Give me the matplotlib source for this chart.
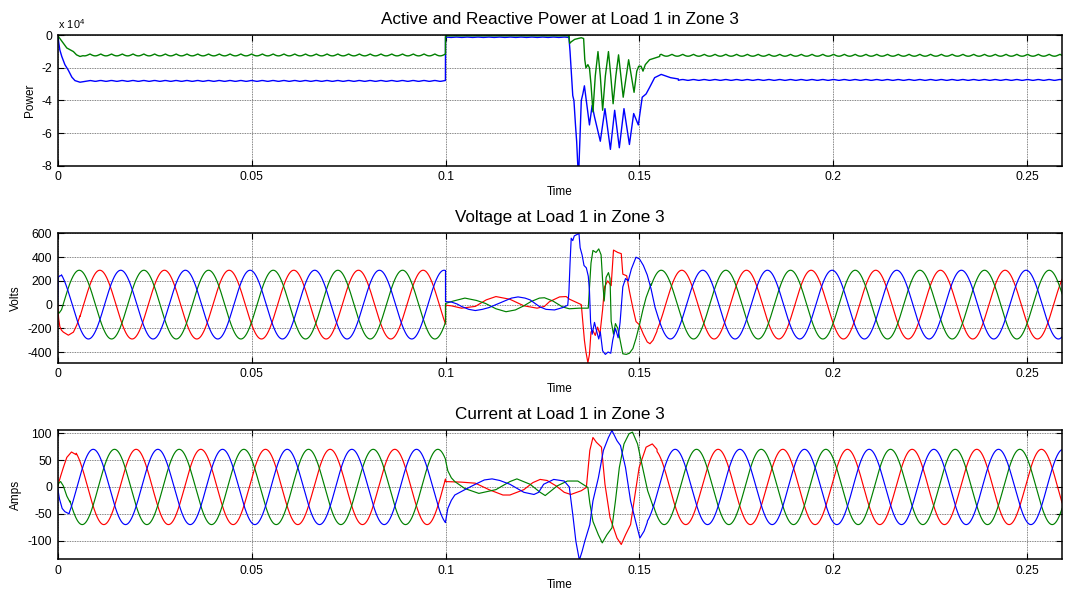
import numpy as np
import matplotlib
matplotlib.use('Agg')
import matplotlib.pyplot as plt

plt.rcParams['font.family'] = ['Liberation Sans', 'DejaVu Sans']
plt.rcParams['mathtext.fontset'] = 'custom'
plt.rcParams['mathtext.rm'] = 'Liberation Sans'

# ---------------- time axis / events ----------------
T_END = 0.2589
DT = 2e-5
F_HZ = 60.0
T_OPEN = 0.1          # first disturbance
X_TICKS = [0, 0.05, 0.1, 0.15, 0.2, 0.25]
X_TICK_LABELS = ['0', '0.05', '0.1', '0.15', '0.2', '0.25']

# ---------------- power (W / var) ----------------
P_TICKS = [-8e4, -6e4, -4e4, -2e4, 0]
P_TICK_LABELS = ['-8', '-6', '-4', '-2', '0']
P_RIPPLE_HZ = 360.0
# levels: before 0.1, between 0.1 and transient, after transient
P_BLUE_LEVELS = [-2.80e4, -0.12e4, -2.74e4]
P_BLUE_RIPPLE = [250, 120, 250]
P_GREEN_LEVELS = [-1.22e4, -0.03e4, -1.24e4]
P_GREEN_RIPPLE = [600, 50, 600]
P_BLUE_START = [(0, 0), (0.0002, -0.25e4), (0.0006, -0.9e4), (0.0011, -1.3e4), (0.0019, -1.8e4),
                (0.0028, -2.15e4), (0.0037, -2.57e4), (0.0045, -2.78e4), (0.0058, -2.88e4),
                (0.0070, -2.83e4)]
P_GREEN_START = [(0, 0), (0.0011, -0.36e4), (0.0024, -0.78e4), (0.0032, -0.88e4), (0.0041, -1.0e4),
                 (0.0049, -1.2e4), (0.0058, -1.3e4), (0.0065, -1.25e4)]
P_BLUE_FAULT = [(0.1318, -0.1e4), (0.1321, -1.0e4), (0.1325, -2.5e4), (0.1328, -3.7e4), (0.1331, -4.0e4),
                (0.1335, -5.5e4), (0.1338, -6.5e4), (0.1341, -8.0e4), (0.1344, -8.0e4), (0.1347, -6.0e4),
                (0.1350, -4.0e4), (0.1354, -3.6e4), (0.1358, -3.1e4), (0.1364, -4.2e4), (0.1371, -5.5e4),
                (0.1378, -4.3e4), (0.1384, -5.0e4), (0.1399, -6.5e4), (0.1411, -4.5e4), (0.1425, -7.0e4),
                (0.1436, -4.6e4), (0.1448, -6.9e4), (0.1460, -4.5e4), (0.1474, -6.7e4), (0.1485, -4.8e4),
                (0.1497, -5.5e4), (0.1507, -3.8e4), (0.1517, -3.6e4), (0.1526, -3.2e4), (0.1539, -2.6e4),
                (0.1556, -2.4e4), (0.1580, -2.6e4), (0.1600, -2.68e4)]
P_GREEN_FAULT = [(0.1318, 0), (0.1320, -0.5e4), (0.1324, -0.4e4), (0.1333, -0.25e4), (0.1350, -0.15e4),
                 (0.1356, -0.2e4), (0.1359, -1.5e4), (0.1362, -2.0e4), (0.1367, -1.8e4), (0.1371, -2.0e4),
                 (0.1375, -3.0e4), (0.1380, -4.7e4), (0.1386, -2.5e4), (0.1393, -1.0e4), (0.1399, -2.5e4),
                 (0.1405, -4.6e4), (0.1412, -2.5e4), (0.1420, -1.0e4), (0.1426, -2.5e4), (0.1432, -4.2e4),
                 (0.1439, -2.5e4), (0.1446, -1.2e4), (0.1452, -2.5e4), (0.1458, -3.8e4), (0.1466, -2.5e4),
                 (0.1472, -1.5e4), (0.1479, -2.5e4), (0.1486, -3.5e4), (0.1493, -2.2e4), (0.1498, -1.9e4),
                 (0.1504, -1.9e4), (0.1509, -2.2e4), (0.1515, -1.8e4), (0.1526, -1.5e4), (0.1539, -1.4e4),
                 (0.1552, -1.3e4)]

# ---------------- voltage (V) ----------------
V_TICKS = [-400, -200, 0, 200, 400, 600]
V_AMP = 290
V_PEAK_RED, V_PEAK_GREEN, V_PEAK_BLUE = 0.0109, 0.0056, 0.0163
V_RED_START = [(0, 0), (0.0003, -120), (0.0006, -185), (0.0010, -215), (0.0015, -232), (0.0028, -258),
               (0.0041, -232), (0.0050, -170), (0.0058, -95)]
V_GREEN_START = [(0, -60), (0.0004, -72), (0.0010, -45)]
V_BLUE_START = [(0, 0), (0.0002, 230), (0.0006, 243), (0.0010, 245)]
V_RED_FAULT = [(0.1000, -5), (0.1015, -10), (0.1041, -30), (0.1077, -15), (0.1105, 40), (0.1130, 68),
               (0.1166, 45), (0.1202, -10), (0.1236, -30), (0.1255, -15), (0.1268, 25), (0.1294, 65),
               (0.1311, 68), (0.1320, 45), (0.1337, 20), (0.1350, 0), (0.1354, -150), (0.1358, -300),
               (0.1362, -400), (0.1367, -490), (0.1371, -420), (0.1375, -230), (0.1380, -220),
               (0.1386, -260), (0.1392, -190), (0.1398, -250), (0.1405, -40), (0.1410, 150), (0.1418, 200),
               (0.1427, 160), (0.1433, 460), (0.1444, 440), (0.1453, 430), (0.1457, 257), (0.1467, 243),
               (0.1474, 114), (0.1483, -30), (0.1491, -143), (0.1500, -171), (0.1510, -250), (0.1520, -315),
               (0.1527, -330), (0.1535, -300), (0.1545, -225)]
V_GREEN_FAULT = [(0.1000, 10), (0.1020, 30), (0.1050, 55), (0.1080, 35), (0.1103, 10), (0.1130, -35),
                 (0.1156, -60), (0.1180, -45), (0.1202, -10), (0.1220, 25), (0.1242, 55), (0.1255, 58),
                 (0.1277, 30), (0.1302, -20), (0.1319, -35), (0.1345, -30), (0.1368, -30), (0.1371, 140),
                 (0.1375, 350), (0.1380, 457), (0.1388, 440), (0.1395, 470), (0.1401, 420), (0.1405, 200),
                 (0.1409, 30), (0.1414, 230), (0.1420, 270), (0.1424, 220), (0.1427, -140), (0.1433, -250),
                 (0.1438, -160), (0.1444, -200), (0.1450, -300), (0.1457, -415), (0.1466, -420),
                 (0.1474, -410), (0.1483, -370), (0.1491, -285), (0.1500, -170), (0.1509, -40),
                 (0.1517, 60), (0.1530, 175)]
V_BLUE_FAULT = [(0.1000, 25), (0.1015, 22), (0.1030, 5), (0.1041, -15), (0.1060, -40), (0.1077, -50),
                (0.1095, -40), (0.1112, -25), (0.1130, 0), (0.1148, 25), (0.1170, 55), (0.1187, 65),
                (0.1205, 55), (0.1218, 40), (0.1235, 0), (0.1244, -20), (0.1259, -40), (0.1281, -45),
                (0.1302, -25), (0.1315, -5), (0.1318, 100), (0.1321, 350), (0.1324, 560), (0.1328, 540),
                (0.1332, 580), (0.1338, 590), (0.1344, 600), (0.1347, 480), (0.1352, 420), (0.1357, 330),
                (0.1363, 310), (0.1368, 240), (0.1371, 120), (0.1374, -150), (0.1378, -250), (0.1384, -150),
                (0.1390, -230), (0.1395, -290), (0.1399, -230), (0.1405, -390), (0.1412, -420),
                (0.1419, -400), (0.1426, -410), (0.1431, -300), (0.1438, -200), (0.1445, -280),
                (0.1450, -150), (0.1457, 150), (0.1464, 220), (0.1471, 200), (0.1479, 300), (0.1491, 400),
                (0.1500, 385), (0.1510, 330), (0.1520, 250), (0.1530, 130), (0.1538, 5)]

# ---------------- current (A) ----------------
I_TICKS = [-100, -50, 0, 50, 100]
I_AMP = 70
I_PEAK_RED, I_PEAK_GREEN, I_PEAK_BLUE = 0.0036, 0.0147, 0.0092
I_RED_START = [(0, 0), (0.0008, 20), (0.0015, 36), (0.0024, 55), (0.0036, 65), (0.0048, 60)]
I_GREEN_START = [(0, 0), (0.0004, 8), (0.0008, 10), (0.0015, 2), (0.0024, -17), (0.0032, -28)]
I_BLUE_START = [(0, 0), (0.0005, -22), (0.0012, -40), (0.0019, -46), (0.0030, -50)]
I_RED_FAULT = [(0.1000, 10), (0.1040, 9), (0.1077, 7), (0.1112, -5), (0.1148, -15), (0.1166, -15),
               (0.1202, -5), (0.1225, 8), (0.1244, 14), (0.1262, 12), (0.1285, 2), (0.1306, -10),
               (0.1323, -14), (0.1350, -7), (0.1363, -1), (0.1367, 30), (0.1372, 68), (0.1380, 92),
               (0.1389, 83), (0.1402, 74), (0.1411, 5), (0.1424, -57), (0.1442, -95), (0.1453, -107),
               (0.1464, -89), (0.1477, -70), (0.1486, -26), (0.1499, 36), (0.1517, 74), (0.1533, 80),
               (0.1545, 70)]
I_GREEN_FAULT = [(0.1000, 50), (0.1006, 30), (0.1015, 17), (0.1024, 10), (0.1050, -3), (0.1086, -12),
                 (0.1130, -5), (0.1166, 10), (0.1184, 15), (0.1218, 5), (0.1244, -10), (0.1257, -16),
                 (0.1288, 2), (0.1314, 11), (0.1341, 11), (0.1354, 5), (0.1367, -1), (0.1372, -30),
                 (0.1380, -64), (0.1394, -89), (0.1404, -104), (0.1416, -89), (0.1429, -76), (0.1438, -26),
                 (0.1448, 36), (0.1460, 80), (0.1473, 99), (0.1482, 102), (0.1495, 80), (0.1508, 36),
                 (0.1521, -7), (0.1535, -36)]
I_BLUE_FAULT = [(0.1000, -65), (0.1006, -40), (0.1015, -25), (0.1024, -15), (0.1050, -5), (0.1077, 5),
                (0.1100, 13), (0.1120, 15), (0.1140, 12), (0.1166, 5), (0.1202, -10), (0.1228, -14),
                (0.1240, -10), (0.1253, 5), (0.1279, 14), (0.1306, 11), (0.1319, 0), (0.1328, -51),
                (0.1336, -101), (0.1345, -136), (0.1352, -120), (0.1359, -101), (0.1372, -70),
                (0.1380, -26), (0.1394, 17), (0.1407, 68), (0.1420, 92), (0.1429, 105), (0.1442, 86),
                (0.1451, 77), (0.1464, 36), (0.1477, -26), (0.1490, -64), (0.1501, -95), (0.1512, -82),
                (0.1520, -66)]

RED, GREEN, BLUE = '#ff0000', '#008000', '#0000ff'


def steady_wave(t, amp, peak):
    return amp * np.cos(2 * np.pi * F_HZ * (t - peak))


def build_phase(start_pts, fault_pts, amp, peak):
    s = np.array(start_pts, float)
    f = np.array(fault_pts, float)
    t1 = np.append(np.arange(s[-1, 0] + DT, T_OPEN, DT), T_OPEN)
    t3 = np.arange(f[-1, 0] + DT, T_END + DT, DT)
    t = np.concatenate([s[:, 0], t1, f[:, 0], t3])
    y = np.concatenate([s[:, 1], steady_wave(t1, amp, peak), f[:, 1], steady_wave(t3, amp, peak)])
    return t, y


def ripple(t, amp, sharp):
    if sharp:
        return amp * (1.27 - 2 * np.abs(np.sin(np.pi * P_RIPPLE_HZ * t)))
    return amp * np.cos(2 * np.pi * P_RIPPLE_HZ * t)


def build_power(start_pts, fault_pts, levels, ripples, sharp):
    s = np.array(start_pts, float)
    f = np.array(fault_pts, float)
    t1 = np.arange(s[-1, 0] + DT, T_OPEN, DT)
    t2 = np.arange(T_OPEN, f[0, 0], DT)
    t3 = np.arange(f[-1, 0] + DT, T_END + DT, DT)
    t = np.concatenate([s[:, 0], t1, t2, f[:, 0], t3])
    y = np.concatenate([s[:, 1],
                        levels[0] + ripple(t1, ripples[0], sharp),
                        levels[1] + ripple(t2, ripples[1], sharp),
                        f[:, 1],
                        levels[2] + ripple(t3, ripples[2], sharp)])
    return t, y


fig = plt.figure(figsize=(10.65, 5.99), dpi=100)
rects = [[0.0540, 0.7234, 0.9432, 0.2177],
         [0.0540, 0.3945, 0.9432, 0.2157],
         [0.0540, 0.0668, 0.9432, 0.2154]]
axes = [fig.add_axes(r) for r in rects]

LW = 0.85
# Power
ax = axes[0]
t, y = build_power(P_BLUE_START, P_BLUE_FAULT, P_BLUE_LEVELS, P_BLUE_RIPPLE, False)
ax.plot(t, y, color=BLUE, lw=1.0)
t, y = build_power(P_GREEN_START, P_GREEN_FAULT, P_GREEN_LEVELS, P_GREEN_RIPPLE, True)
ax.plot(t, y, color=GREEN, lw=1.0)
ax.set_ylim(-8e4, 0)
ax.set_yticks(P_TICKS, P_TICK_LABELS)
ax.set_title('Active and Reactive Power at Load 1 in Zone 3', fontsize=12.3, pad=8)
ax.set_ylabel('Power', fontsize=8.5)
ax.text(0, 1.03, r'$\mathregular{x\ 10^{4}}$', transform=ax.transAxes, fontsize=7.8,
        ha='left', va='bottom')

# Voltage
ax = axes[1]
for sp, fp, pk, c in [(V_RED_START, V_RED_FAULT, V_PEAK_RED, RED),
                      (V_GREEN_START, V_GREEN_FAULT, V_PEAK_GREEN, GREEN),
                      (V_BLUE_START, V_BLUE_FAULT, V_PEAK_BLUE, BLUE)]:
    t, y = build_phase(sp, fp, V_AMP, pk)
    ax.plot(t, y, color=c, lw=LW)
ax.set_ylim(-490, 600)
ax.set_yticks(V_TICKS, [str(v) for v in V_TICKS])
ax.set_title('Voltage at Load 1 in Zone 3', fontsize=12.3, pad=8)
ax.set_ylabel('Volts', fontsize=8.5)

# Current
ax = axes[2]
for sp, fp, pk, c in [(I_RED_START, I_RED_FAULT, I_PEAK_RED, RED),
                      (I_GREEN_START, I_GREEN_FAULT, I_PEAK_GREEN, GREEN),
                      (I_BLUE_START, I_BLUE_FAULT, I_PEAK_BLUE, BLUE)]:
    t, y = build_phase(sp, fp, I_AMP, pk)
    ax.plot(t, y, color=c, lw=LW)
ax.set_ylim(-134, 106)
ax.set_yticks(I_TICKS, [str(v) for v in I_TICKS])
ax.set_title('Current at Load 1 in Zone 3', fontsize=12.3, pad=8)
ax.set_ylabel('Amps', fontsize=8.5)

for ax in axes:
    ax.set_xlim(0, T_END)
    ax.set_xticks(X_TICKS, X_TICK_LABELS)
    ax.set_xlabel('Time', fontsize=8.5, labelpad=2)
    ax.tick_params(direction='in', length=4, width=0.8, top=True, right=True,
                   labelsize=8.8, pad=4, colors='black')
    ax.grid(True, color='#5a5a5a', lw=0.6, ls=(0, (1, 1)))
    for s in ax.spines.values():
        s.set_linewidth(1.1)

fig.savefig('out.png', dpi=100)
